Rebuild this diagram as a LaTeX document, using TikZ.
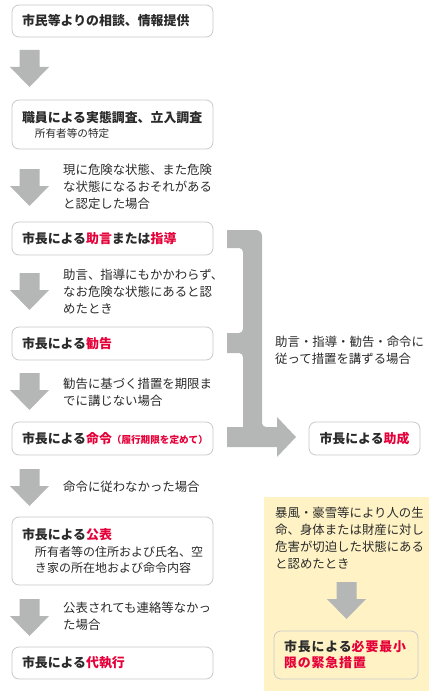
\documentclass[tikz,border=0pt]{standalone}
\usepackage{fontspec}
\setmainfont{Noto Sans CJK JP}
\usetikzlibrary{positioning}

\definecolor{barfill}{HTML}{B5B6B6}
\definecolor{boxline}{HTML}{C9C9C9}
\definecolor{accent}{HTML}{E60039}
\definecolor{ink}{HTML}{2A2A2A}
\definecolor{memo}{HTML}{FFF3C6}

\newcommand{\headfont}{\fontsize{12.9}{16}\selectfont\bfseries}
\newcommand{\notefont}{\fontsize{12.4}{17.2}\selectfont}
\newcommand{\hl}[1]{\textcolor{accent}{#1}}

\begin{document}
\begin{tikzpicture}[x=1pt,y=-1pt,text=ink]
            % Styles
            \tikzstyle{box} = [draw=boxline, line width=0.8pt, rounded corners=7pt, fill=white, minimum width=201pt, text width=181pt, inner xsep=10pt, inner ysep=0pt, align=left, font=\headfont]
            \tikzstyle{note} = [inner sep=0pt, align=left, anchor=west, font=\notefont]
            \tikzstyle{bar} = [fill=barfill]
            \tikzset{dnarrow/.pic={\fill[bar] (-10,0) -- (10,0) -- (10,17) -- (19.5,17) -- (0,37) -- (-19.5,17) -- (-10,17) -- cycle;}}

            \useasboundingbox (0,0) rectangle (441,695);

            % Left column
            \node [box, minimum height=32pt] (consult) at (112.5,21) {市民等よりの相談、情報提供};
            \node [box, minimum height=49pt] (survey) at (112.5,124.5) {職員による実態調査、立入調査\\[-1pt]
                {\fontsize{10.6}{14}\selectfont\mdseries\hspace*{13pt}所有者等の特定}};
            \node [box, minimum height=33pt] (advice) at (112.5,238.5) {市長による\hl{助言}または\hl{指導}};
            \node [box, minimum height=33pt] (recommend) at (112.5,343.5) {市長による\hl{勧告}};
            \node [box, minimum height=33pt] (order) at (112.5,438.5) {市長による\hl{命令}{\fontsize{9.6}{11}\selectfont\hl{（履行期限を定めて）}}};
            \node [box, minimum height=68pt] (publish) at (112.5,551) {市長による\hl{公表}\\[1pt]
                {\fontsize{12}{16}\selectfont\mdseries\hspace*{13pt}所有者等の住所および氏名、空\\
                \hspace*{13pt}き家の所在地および命令内容}};
            \node [box, minimum height=32pt] (execute) at (112.5,663) {市長による\hl{代執行}};

            % Arrows between steps
            \pic at (29.5,50) {dnarrow};
            \pic at (29.5,169) {dnarrow};
            \pic at (29.5,273) {dnarrow};
            \pic at (29.5,373) {dnarrow};
            \pic at (29.5,469) {dnarrow};
            \pic at (29.5,599) {dnarrow};

            % Conditions
            \node [note] (danger) at (63,186.5) {現に危険な状態、また危険\\な状態になるおそれがある\\と認定した場合};
            \node [note] (still) at (63,291.5) {助言、指導にもかかわらず、\\なお危険な状態にあると認\\めたとき};
            \node [note] (deadline) at (63,392) {勧告に基づく措置を期限ま\\でに講じない場合};
            \node [note] (disobey) at (63,487) {命令に従わなかった場合};
            \node [note] (nocontact) at (63,616) {公表されても連絡等なかっ\\た場合};

            % Bracket to subsidy
            \fill[bar] (227,230) [rounded corners=6] -- (262,230) [rounded corners=4] -- (262,427) [sharp corners] -- (277,427)
                -- (277,417) -- (296,437) -- (277,457) -- (277,447) -- (227,447) -- (227,427) -- (243,427) [rounded corners=4] -- (243,353)
                [sharp corners] -- (227,353) -- (227,333) [rounded corners=4] -- (243,333) -- (243,248) [sharp corners] -- (227,248) -- cycle;
            \node [note] (comply) at (275,350) {助言・指導・勧告・命令に\\従って措置を講ずる場合};
            \node [box, minimum width=111pt, text width=101pt, inner xsep=5pt, minimum height=33pt, align=center] (aid) at (364.5,438.5) {市長による\hl{助成}};

            % Emergency
            \node [fill=memo, minimum width=165pt, minimum height=194pt, inner sep=0pt] (zone) at (346.5,594) {};
            \node [note] (storm) at (275,538) {暴風・豪雪等により人の生\\命、身体または財産に対し\\危害が切迫した状態にある\\と認めたとき};
            \pic at (346.5,582) {dnarrow};
            \node [box, fill=none, minimum width=144pt, text width=124pt, minimum height=48pt, font=\headfont\addfontfeatures{LetterSpace=7}] (urgent) at (346,655) {市長による\hl{必要最小}\\\hl{限の緊急措置}};
\end{tikzpicture}
\end{document}
